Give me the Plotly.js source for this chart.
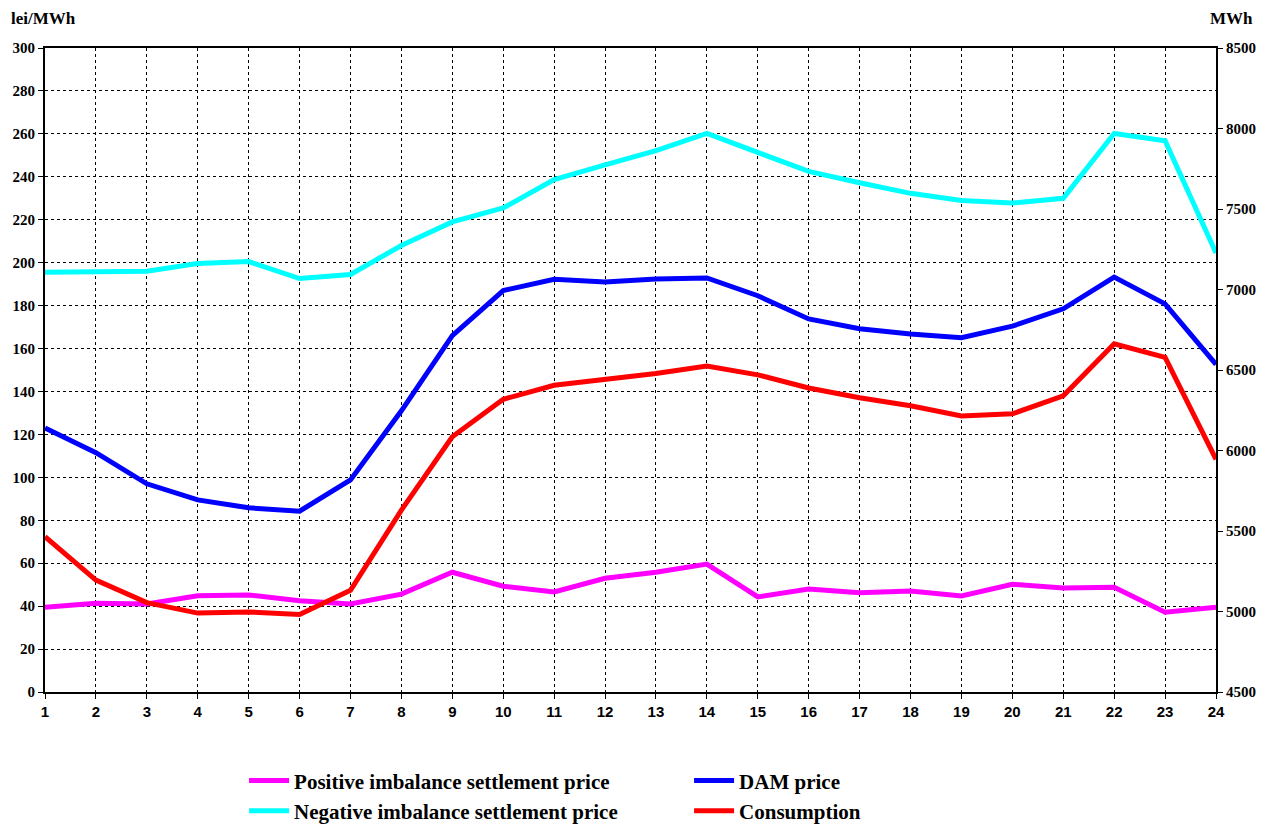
<!DOCTYPE html>
<html>
<head>
<meta charset="utf-8">
<script src="https://cdn.plot.ly/plotly-3.0.1.min.js"></script>
<style>html,body{margin:0;padding:0;background:#fff;}#chart{width:1274px;height:825px;}</style>
</head>
<body>
<div id="chart"></div>
<script>
const hours = [1,2,3,4,5,6,7,8,9,10,11,12,13,14,15,16,17,18,19,20,21,22,23,24];
const positivePrice = [39.5,41.3,41,44.8,45.2,42.5,41,45.6,55.8,49.3,46.6,53,55.8,59.6,44.3,48,46.2,47,44.7,50.2,48.4,48.8,37.2,39.5];
const negativePrice = [195.5,195.8,196,199.6,200.5,192.6,194.5,208,219,225.5,238.7,245.6,252.2,260.2,251.6,242.5,237.2,232.3,229,227.8,230,260.2,256.8,204.5];
const damPrice = [123,111.5,97,89.5,85.8,84.2,98.8,131,166,187,192.3,191,192.4,192.9,184.6,173.8,169.2,166.8,165,170.4,178.5,193.3,180.8,152.6];
const consumption = [5465,5195,5055,4990,4997,4982,5132,5630,6085,6318,6405,6438,6478,6525,6470,6388,6328,6278,6215,6228,6340,6663,6578,5945];

const SERIF = '"Liberation Serif", "Times New Roman", serif';
const SANS = '"Liberation Sans", Arial, sans-serif';
const serifBold = {family: SERIF, size: 15, color: '#000', weight: 'bold'};
const sansBold = {family: SANS, size: 15, color: '#000', weight: 'bold'};

function tr(name, y, color, axis) {
  return {x: hours, y: y, name: name, type: 'scatter', mode: 'lines',
          yaxis: axis, line: {color: color, width: 5}};
}

const data = [
  tr('Positive imbalance settlement price', positivePrice, '#FF00FF', 'y'),
  tr('DAM price', damPrice, '#0000FF', 'y'),
  tr('Negative imbalance settlement price', negativePrice, '#00FFFF', 'y'),
  tr('Consumption', consumption, '#FF0000', 'y2')
];

const layout = {
  width: 1274, height: 825,
  margin: {l: 45, r: 58, t: 48, b: 133, autoexpand: false},
  paper_bgcolor: '#fff', plot_bgcolor: '#fff',
  showlegend: true,
  legend: {
    orientation: 'h', x: 0.170, xanchor: 'left', y: -0.106, yanchor: 'top',
    entrywidth: 390, entrywidthmode: 'pixels', itemwidth: 40, traceorder: 'normal',
    tracegroupgap: 0,
    font: {family: SERIF, size: 21, color: '#000', weight: 'bold'},
    bgcolor: 'rgba(0,0,0,0)'
  },
  xaxis: {
    range: [1, 24], tickmode: 'array', tickvals: hours, ticktext: hours.map(String),
    showgrid: true, gridcolor: '#000', griddash: 'dot', gridwidth: 1,
    showline: true, linecolor: '#000', linewidth: 2, mirror: true,
    ticks: 'outside', ticklen: 5, tickcolor: '#000',
    tickfont: sansBold, zeroline: false, fixedrange: true
  },
  yaxis: {
    range: [0, 300], dtick: 20, tick0: 0,
    showgrid: true, gridcolor: '#000', griddash: 'dot', gridwidth: 1,
    showline: true, linecolor: '#000', linewidth: 2,
    ticks: 'outside', ticklen: 5, tickcolor: '#000',
    tickfont: serifBold, zeroline: false, fixedrange: true
  },
  yaxis2: {
    range: [4500, 8500], dtick: 500, tick0: 4500, overlaying: 'y', side: 'right',
    showgrid: false, showline: true, linecolor: '#000', linewidth: 2,
    ticks: 'outside', ticklen: 5, tickcolor: '#000',
    tickfont: serifBold, zeroline: false, fixedrange: true
  },
  annotations: [
    {text: 'lei/MWh', xref: 'paper', yref: 'paper', x: -0.031, xanchor: 'left', y: 1.028, yanchor: 'bottom',
     showarrow: false, font: {family: SERIF, size: 17, color: '#000', weight: 'bold'}},
    {text: 'MWh', xref: 'paper', yref: 'paper', x: 1.033, xanchor: 'right', y: 1.028, yanchor: 'bottom',
     showarrow: false, font: {family: SERIF, size: 17, color: '#000', weight: 'bold'}}
  ]
};

Plotly.newPlot('chart', data, layout, {displayModeBar: false, staticPlot: true});
</script>
</body>
</html>
